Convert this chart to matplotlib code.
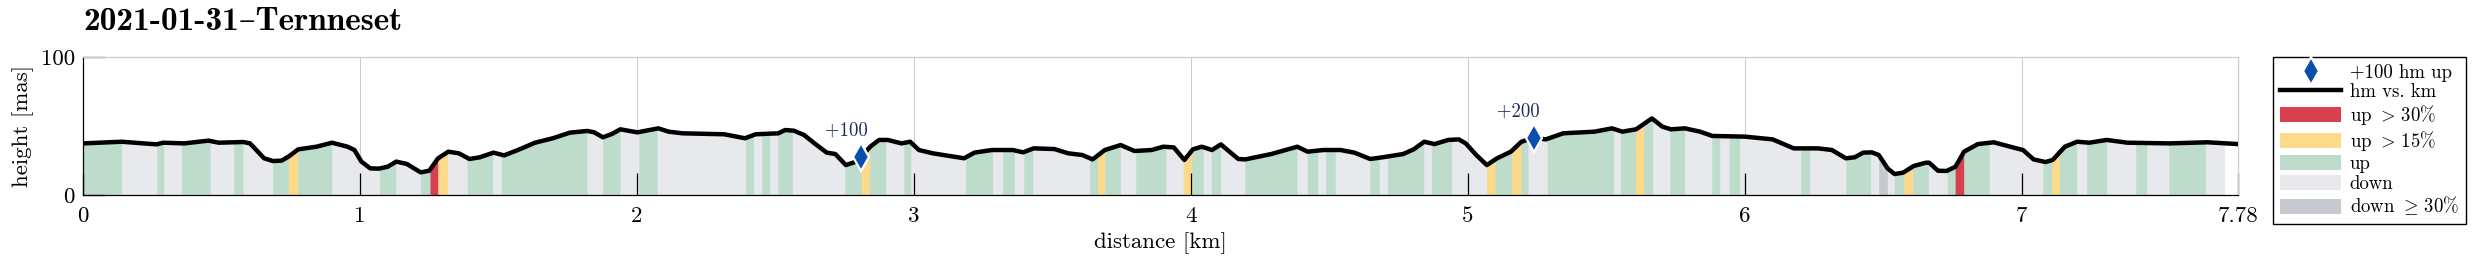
import numpy as np
import matplotlib
matplotlib.use("Agg")
import matplotlib.pyplot as plt
from matplotlib.patches import Patch
from matplotlib.lines import Line2D

plt.rcParams["font.family"] = ["cmr10", "DejaVu Serif"]
plt.rcParams["mathtext.fontset"] = "cm"
plt.rcParams["axes.formatter.use_mathtext"] = True
plt.rcParams["axes.unicode_minus"] = False

TITLE = "2021-01-31–Ternneset"

# elevation profile
DIST_KM = [0.000, 0.140, 0.265, 0.290, 0.366, 0.453, 0.490, 0.579, 0.603, 0.654,
           0.686, 0.717, 0.742, 0.777, 0.843, 0.899, 0.955, 0.980, 1.005, 1.037,
           1.068, 1.100, 1.131, 1.169, 1.219, 1.250, 1.282, 1.319, 1.357, 1.395,
           1.432, 1.482, 1.520, 1.570, 1.632, 1.696, 1.758, 1.821, 1.846, 1.877,
           1.909, 1.940, 2.001, 2.077, 2.114, 2.164, 2.315, 2.390, 2.428, 2.510,
           2.535, 2.566, 2.603, 2.641, 2.685, 2.716, 2.754, 2.792, 2.810, 2.842,
           2.874, 2.905, 2.955, 2.986, 3.018, 3.068, 3.181, 3.218, 3.281, 3.357,
           3.394, 3.432, 3.507, 3.557, 3.607, 3.645, 3.689, 3.746, 3.796, 3.858,
           3.900, 3.938, 3.976, 4.007, 4.039, 4.076, 4.108, 4.139, 4.171, 4.196,
           4.290, 4.384, 4.421, 4.478, 4.540, 4.590, 4.647, 4.691, 4.766, 4.804,
           4.842, 4.879, 4.929, 4.967, 4.992, 5.030, 5.068, 5.105, 5.155, 5.193,
           5.237, 5.281, 5.344, 5.457, 5.520, 5.557, 5.607, 5.664, 5.702, 5.733,
           5.783, 5.838, 5.882, 6.000, 6.100, 6.176, 6.264, 6.314, 6.364, 6.396,
           6.427, 6.458, 6.483, 6.515, 6.540, 6.571, 6.609, 6.653, 6.665, 6.697,
           6.728, 6.760, 6.791, 6.841, 6.898, 6.967, 7.004, 7.042, 7.085, 7.111,
           7.155, 7.199, 7.243, 7.306, 7.381, 7.532, 7.670, 7.780]
HEIGHT_M = [37.4, 38.6, 36.7, 37.9, 37.4, 39.4, 37.9, 38.4, 37.4, 26.6,
            24.6, 24.9, 27.8, 33.1, 35.0, 37.9, 35.0, 32.6, 24.2, 19.3,
            19.1, 20.5, 24.2, 22.5, 16.4, 17.6, 26.6, 31.4, 30.2, 26.1,
            27.3, 30.7, 28.7, 32.6, 37.9, 41.1, 45.2, 46.4, 45.4, 41.8,
            44.2, 47.6, 45.4, 48.3, 45.9, 44.7, 44.0, 41.1, 44.0, 44.7,
            47.1, 46.6, 43.5, 37.4, 30.7, 29.7, 21.7, 24.2, 27.8, 35.0,
            39.9, 39.9, 37.4, 38.6, 32.6, 30.2, 26.6, 30.7, 32.6, 32.6,
            30.9, 33.8, 33.3, 30.2, 29.0, 25.8, 32.6, 36.2, 31.9, 32.6,
            35.0, 34.5, 25.4, 33.1, 35.0, 32.6, 36.7, 31.4, 26.1, 25.8,
            29.7, 35.0, 31.4, 32.6, 32.6, 30.7, 26.1, 27.3, 29.7, 33.1,
            38.6, 36.9, 39.9, 40.3, 37.4, 29.0, 21.7, 26.6, 31.4, 38.6,
            41.5, 40.3, 44.7, 45.9, 48.3, 45.9, 47.6, 55.5, 49.5, 47.6,
            48.3, 45.9, 42.8, 42.3, 40.3, 33.8, 33.8, 32.6, 26.6, 27.3,
            30.7, 30.9, 29.0, 19.3, 15.2, 16.2, 21.0, 23.4, 23.4, 17.6,
            17.4, 20.5, 31.4, 36.9, 38.2, 34.5, 32.6, 25.8, 23.9, 25.4,
            35.0, 38.6, 37.9, 39.9, 37.9, 37.4, 38.2, 36.9]

# coloured slope bands under the profile: edges and one class per band
BAND_EDGES_KM = [0.000, 0.140, 0.268, 0.293, 0.356, 0.460, 0.545, 0.579, 0.686, 0.742,
                 0.777, 0.899, 1.071, 1.131, 1.219, 1.254, 1.282, 1.317, 1.388, 1.480,
                 1.511, 1.821, 1.878, 1.940, 2.008, 2.074, 2.393, 2.422, 2.451, 2.481,
                 2.510, 2.562, 2.752, 2.811, 2.840, 2.899, 2.965, 2.990, 3.187, 3.284,
                 3.321, 3.363, 3.397, 3.430, 3.635, 3.664, 3.689, 3.746, 3.802, 3.911,
                 3.973, 4.004, 4.045, 4.074, 4.108, 4.196, 4.384, 4.421, 4.459, 4.488,
                 4.522, 4.647, 4.681, 4.710, 4.842, 4.869, 4.942, 5.068, 5.099, 5.159,
                 5.193, 5.218, 5.287, 5.526, 5.551, 5.605, 5.635, 5.668, 5.730, 5.783,
                 5.881, 5.910, 5.944, 5.982, 6.204, 6.236, 6.365, 6.455, 6.484, 6.515,
                 6.540, 6.575, 6.607, 6.663, 6.731, 6.760, 6.791, 6.883, 7.077, 7.109,
                 7.136, 7.199, 7.234, 7.306, 7.412, 7.452, 7.532, 7.663, 7.730, 7.780]
BAND_KIND = ["up", "down", "up", "down", "up", "down", "up", "down", "up", "up15",
             "up", "down", "up", "down", "up", "up30", "up15", "down", "up", "down",
             "up", "down", "up", "down", "up", "down", "up", "down", "up", "down",
             "up", "down", "up", "up15", "up", "down", "up", "down", "up", "down",
             "up", "down", "up", "down", "up", "up15", "up", "down", "up", "down",
             "up15", "up", "down", "up", "down", "up", "down", "up", "down", "up",
             "down", "up", "down", "up", "down", "up", "down", "up15", "up", "up15",
             "up", "down", "up", "down", "up", "up15", "up", "down", "up", "down",
             "up", "down", "up", "down", "up", "down", "up", "down", "down30", "down",
             "up", "up15", "up", "down", "up", "up30", "up", "down", "up", "up15",
             "up", "down", "up", "down", "up", "down", "up", "down", None]

MILESTONE_KM = [2.810, 5.237]
MILESTONE_M = [27.8, 41.5]
MILESTONE_LABELS = ["+100", "+200"]

X_TICKS = [0, 1, 2, 3, 4, 5, 6, 7, 7.78]
X_TICK_LABELS = ["0", "1", "2", "3", "4", "5", "6", "7", "7.78"]

COLORS = {
    "up30": "#d9404f",
    "up15": "#fdd98a",
    "up": "#bedccb",
    "down": "#e8e9ec",
    "down30": "#c6c9cf",
}
LEGEND_LABELS = {
    "up30": r"up $>\,$30%",
    "up15": r"up $>\,$15%",
    "up": "up",
    "down": "down",
    "down30": r"down $\geq\,$30%",
}
DIAMOND = "#0a4eb0"

W, H = 2473, 266
fig = plt.figure(figsize=(W / 100, H / 100), dpi=100)
ax = fig.add_axes([83 / W, (H - 195) / H, (2238 - 83) / W, (195 - 57) / H])

dist = np.array(DIST_KM)
height = np.array(HEIGHT_M)

for a, b, kind in zip(BAND_EDGES_KM[:-1], BAND_EDGES_KM[1:], BAND_KIND):
    if kind is None:
        continue
    inside = dist[(dist > a) & (dist < b)]
    xs = np.concatenate([[a], inside, [b]])
    ys = np.interp(xs, dist, height)
    ax.fill_between(xs, 0, ys, facecolor=COLORS[kind], edgecolor=COLORS[kind],
                    lw=0.4, zorder=1)

ax.plot(dist, height, color="black", lw=3.2, solid_joinstyle="round", zorder=3)

ax.plot(MILESTONE_KM, MILESTONE_M, ls="none", marker="d", ms=14, mfc=DIAMOND,
        mec="white", mew=1.6, zorder=4)
for xk, yk, lab in zip(MILESTONE_KM, MILESTONE_M, MILESTONE_LABELS):
    ax.annotate(lab, (xk, yk), xytext=(-11, 19), textcoords="offset points",
                ha="center", va="center", fontsize=13.5, color="#1f2a5c")

for xt in X_TICKS[1:-1]:
    ax.axvline(xt, color="#cccccc", lw=0.8, zorder=0.5)

ax.set_xlim(0, 7.78)
ax.set_ylim(0, 100)
ax.set_xticks(X_TICKS, X_TICK_LABELS)
ax.set_yticks([0, 100], ["0", "100"])
ax.tick_params(direction="in", length=15.5, width=0.9, labelsize=16.5, pad=8.5)
ax.tick_params(axis="y", pad=6)
for side in ("top", "right"):
    ax.spines[side].set_color("#cccccc")
    ax.spines[side].set_linewidth(0.9)
for side in ("left", "bottom"):
    ax.spines[side].set_linewidth(0.9)

ax.set_xlabel("distance [km]", fontsize=16.5, labelpad=4.5)
ax.set_ylabel("height [mas]", fontsize=16.5, labelpad=5)

fig.text(83 / W, 1 - 22 / H, TITLE, ha="left", va="center", fontsize=24,
         family=["cmb10", "DejaVu Serif"])

handles = [
    Line2D([], [], ls="none", marker="d", ms=14, mfc=DIAMOND, mec="white", mew=1.6),
    Line2D([], [], color="black", lw=3.2),
]
labels = ["+100 hm up", "hm vs. km"]
for kind in ["up30", "up15", "up", "down", "down30"]:
    handles.append(Patch(facecolor=COLORS[kind], edgecolor="none"))
    labels.append(LEGEND_LABELS[kind])

leg = fig.legend(handles, labels, loc="upper left", bbox_to_anchor=(2273 / W, 1 - 57 / H),
                 bbox_transform=fig.transFigure, fontsize=13.5, frameon=True,
                 fancybox=False, framealpha=1, edgecolor="black", borderpad=0.35,
                 handlelength=3.3, handleheight=0.85, handletextpad=0.45,
                 labelspacing=0.1, borderaxespad=0)
leg.get_frame().set_linewidth(1.0)

fig.savefig("out.png", dpi=100)
